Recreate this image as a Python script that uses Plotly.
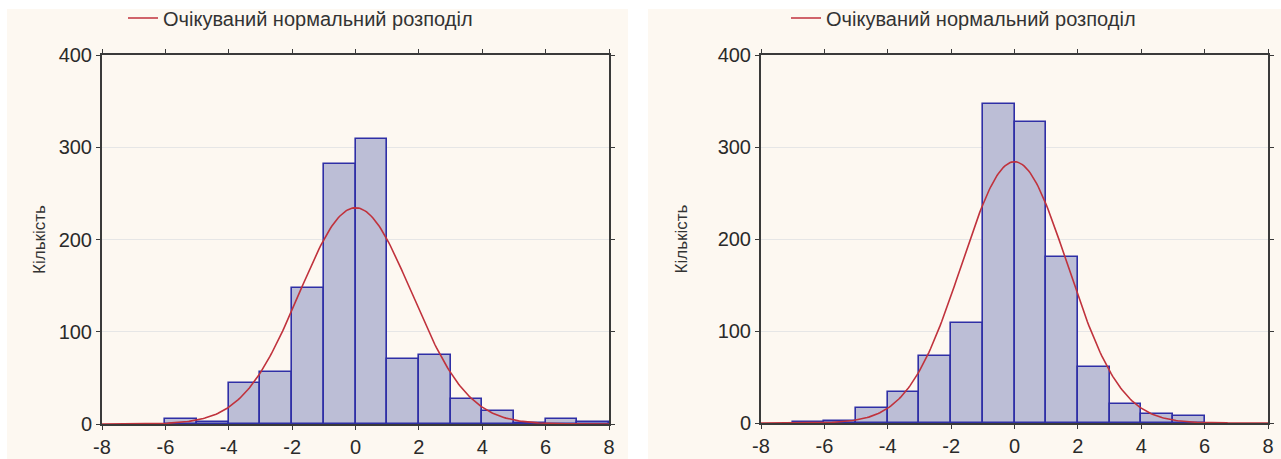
import math
import plotly.graph_objects as go

# ---- data ----
bin_left_1 = [-6, -5, -4, -3, -2, -1, 0, 1, 2, 3, 4, 5, 6, 7]
counts_1 = [5, 2, 44, 56, 147, 282, 309, 71, 75, 27, 14, 1, 5, 2]
mean_1, sd_1, n_1 = 0.0, 1.77, 1040

bin_left_2 = [-7, -6, -5, -4, -3, -2, -1, 0, 1, 2, 3, 4, 5]
counts_2 = [1, 2, 16, 34, 73, 109, 347, 327, 180, 61, 21, 10, 8]
mean_2, sd_2, n_2 = 0.0, 1.67, 1189

legend_label = "Очікуваний нормальний розподіл"
y_title = "Кількість"
x_ticks = [-8, -6, -4, -2, 0, 2, 4, 6, 8]
x_tick_text = ["-8", "-6", "-4", "-2", "0", "2", "4", "6", "8"]
y_ticks = [0, 100, 200, 300, 400]

W, H = 1281, 459
FONT = "Liberation Sans, Arial, sans-serif"
BAR_FILL = "#bcbed6"
BAR_LINE = "#2f2fa6"
CURVE = "#c0323c"
AXIS = "#3a3a3a"
PANEL = "#fdf8f1"


def normal_curve(mean, sd, n):
    xs = [-8 + i * 0.05 for i in range(321)]
    ys = [n / (sd * math.sqrt(2 * math.pi)) * math.exp(-((x - mean) ** 2) / (2 * sd * sd)) for x in xs]
    return xs, ys


fig = go.Figure()

panels = [
    dict(lefts=bin_left_1, counts=counts_1, mu=mean_1, sd=sd_1, n=n_1,
         xa="x", ya="y", leg="legend", standoff=9,
         xd=[102 / W, 609 / W], yd=[1 - 424 / H, 1 - 55 / H]),
    dict(lefts=bin_left_2, counts=counts_2, mu=mean_2, sd=sd_2, n=n_2,
         xa="x2", ya="y2", leg="legend2", standoff=26,
         xd=[761 / W, 1268 / W], yd=[1 - 423 / H, 1 - 55 / H]),
]

for p in panels:
    centers = [b + 0.5 for b in p["lefts"]]
    fig.add_trace(go.Bar(
        x=centers, y=p["counts"], width=1,
        marker=dict(color=BAR_FILL, line=dict(color=BAR_LINE, width=1.6)),
        xaxis=p["xa"], yaxis=p["ya"], showlegend=False,
    ))
    cx, cy = normal_curve(p["mu"], p["sd"], p["n"])
    fig.add_trace(go.Scatter(
        x=cx, y=cy, mode="lines", name=legend_label,
        line=dict(color=CURVE, width=1.6),
        xaxis=p["xa"], yaxis=p["ya"], legend=p["leg"], showlegend=True,
    ))

axis_common = dict(
    showline=True, linecolor=AXIS, linewidth=2, mirror="ticks",
    ticks="outside", ticklen=4, tickcolor=AXIS, tickwidth=1,
    tickfont=dict(family=FONT, size=20, color="#2a2a2a"),
    zeroline=False, automargin=False,
)

legend_common = dict(
    xanchor="left", yanchor="middle", bgcolor="rgba(0,0,0,0)",
    font=dict(family=FONT, size=20, color="#333"),
    borderwidth=0,
)

layout = dict(
    width=W, height=H,
    margin=dict(l=0, r=0, t=0, b=0, autoexpand=False),
    paper_bgcolor="white", plot_bgcolor="white",
    font=dict(family=FONT, color="#222"),
    barmode="overlay", bargap=0,
    shapes=[
        dict(type="rect", xref="paper", yref="paper", x0=7 / W, x1=628 / W, y0=0, y1=1 - 9 / H,
             fillcolor=PANEL, line=dict(width=0), layer="below"),
        dict(type="rect", xref="paper", yref="paper", x0=648 / W, x1=1, y0=0, y1=1 - 9 / H,
             fillcolor=PANEL, line=dict(width=0), layer="below"),
    ],
    legend=dict(legend_common, x=123 / W, y=1 - 18 / H),
    legend2=dict(legend_common, x=786 / W, y=1 - 18 / H),
)

for i, p in enumerate(panels):
    sx = "" if i == 0 else "2"
    layout["xaxis" + sx] = dict(
        axis_common, domain=p["xd"], range=[-8, 8],
        tickvals=x_ticks, ticktext=x_tick_text,
        showgrid=False, anchor="y" + sx,
    )
    layout["yaxis" + sx] = dict(
        axis_common, domain=p["yd"], range=[0, 400], tickvals=y_ticks,
        showgrid=True, gridcolor="#e6e6e6", gridwidth=1, anchor="x" + sx,
        title=dict(text=y_title, font=dict(family=FONT, size=17, color="#333"),
                   standoff=p["standoff"]),
    )

fig.update_layout(**layout)
fig.write_html("out.html")
